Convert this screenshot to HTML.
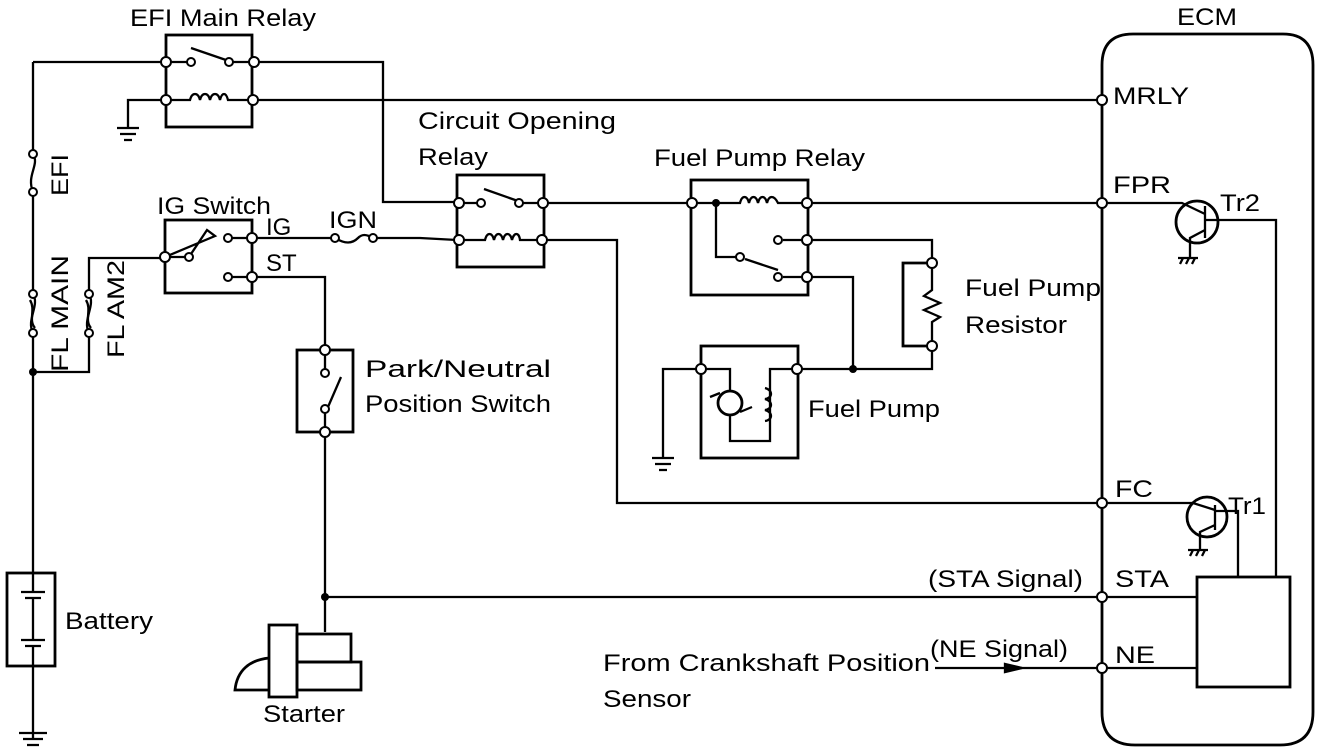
<!DOCTYPE html>
<html><head><meta charset="utf-8"><style>
html,body{margin:0;padding:0;background:#fff;}
svg{display:block;}
text{font-family:"Liberation Sans",Arial,sans-serif;font-size:24px;fill:#000;}
</style></head><body>
<svg width="1328" height="754" viewBox="0 0 1328 754" xmlns="http://www.w3.org/2000/svg">
<g fill="none" stroke="#000" stroke-width="2.3">
<path d="M33 62 H166"/>
<path d="M33 62 V154"/><path d="M33 192 V294"/><path d="M33 333 V573"/>
<path d="M33 154 C40 165,26 175,33 192"/>
<path d="M33 294 C40 305,26 320,33 333"/><path d="M30 300 C36 310,28 320,35 328"/>
<path d="M89 294 C96 305,82 320,89 333"/><path d="M86 300 C92 310,84 320,91 328"/>
<path d="M33 372 H89 V333"/><path d="M89 294 V258 H165"/>
<rect x="7" y="573" width="48" height="93" stroke-width="2.8"/>
<path d="M33 573 V592 M21 592 H45 M25 598 H41 M33 598 V640 M21 640 H45 M25 646 H41 M33 646 V740" />
<path d="M19 733 H47 M23 739 H43 M27 745 H39"/>
<rect x="166" y="35" width="86" height="92" stroke-width="2.8"/>
<path d="M166 62 H187 M233 62 H254"/>
<path d="M191 48 L226 60"/>
<path d="M166 100 H190 C192 92,198 92,200 100 C202 92,208 92,210 100 C212 92,218 92,220 100 C222 92,226 92,228 100 H253"/>
<path d="M166 100 H128 V128 M117 128 H139 M120 134 H136 M124 140 H132"/>
<path d="M254 62 H383 V202 H457" />
<path d="M253 100 H1100"/>
<rect x="457" y="175" width="87" height="92" stroke-width="2.8"/>
<path d="M484 189 L518 201"/>
<path d="M459 240 H485 C487 232,492 232,494 240 C496 232,501 232,503 240 C505 232,510 232,512 240 C514 232,519 232,520 240 H542"/>
<path d="M459 203 H481 M519 203 H540"/>
<path d="M543 203 H692"/>
<path d="M542 240 H617 V503 H1100"/>
<rect x="165" y="220" width="87" height="73" stroke-width="2.8"/>
<path d="M165 257 H189 L207 230 L215 236 Z"/>
<path d="M228 238 H252 M228 277 H252"/>
<path d="M252 238 H335 M373 238 H420 L457 240"/>
<path d="M335 238 C345 244,352 244,358 238 C362 234,366 234,373 238"/>
<path d="M252 277 H325 V350"/>
<rect x="297" y="350" width="56" height="82" stroke-width="2.8"/>
<path d="M325 350 V373 M325 409 V432 M328 407 L341 377"/>
<path d="M325 432 V632"/>
<path d="M325 597 H1100"/>
<rect x="269" y="625" width="28" height="72" stroke-width="2.8"/>
<rect x="297" y="634" width="54" height="28" stroke-width="2.8"/>
<rect x="297" y="662" width="64" height="28" stroke-width="2.8"/>
<path d="M269 690 H235 C237 670,250 660,269 658" stroke-width="2.8"/>
<rect x="691" y="180" width="117" height="115" stroke-width="2.8"/>
<path d="M692 203 H740 C742 195,747 195,749 203 C751 195,756 195,758 203 C760 195,765 195,767 203 C769 195,774 195,778 203 H807"/>
<path d="M716 203 V257 H740 M745 259 L778 270 M783 277 H807 M783 240 H807"/>
<path d="M807 203 H1100"/>
<path d="M807 240 H932 V263"/>
<path d="M807 277 H853 V369"/>
<path d="M932 263 H903 V346 H932" stroke-width="2.8"/>
<path d="M932 263 V290 L924 296 L940 303 L924 310 L940 317 L932 322 V346"/>
<path d="M932 346 V369 H797"/>
<rect x="701" y="346" width="97" height="112" stroke-width="2.8"/>
<path d="M701 369 H663 V458 M652 458 H674 M655 464 H671 M659 470 H667"/>
<path d="M701 369 H730 V391 M730 416 V441 H770 V369 H797"/>
<circle cx="730" cy="403" r="12" stroke-width="2.8"/>
<path d="M710 397 L720 393 M740 412 L752 407"/>
<path d="M765 388 C773 390,773 398,765 399 C773 401,773 409,765 410 C773 412,773 420,765 421"/>
<path d="M1102 65 Q1102 34 1133 34 H1283 Q1313 34 1313 65 V712 Q1313 745 1280 745 H1135 Q1102 745 1102 712 Z" stroke-width="2.8"/>
<circle cx="1197" cy="222" r="21" stroke-width="2.8"/>
<path d="M1100 203 H1182 L1205 214 M1205 206 V238 M1205 220 H1276 V577 M1205 230 L1190 238 V258 M1178 258 H1198"/>
<path d="M1180 264 L1183 258 M1186 264 L1189 258 M1192 264 L1195 258"/>
<circle cx="1207" cy="517" r="20" stroke-width="2.8"/>
<path d="M1100 503 H1193 L1215 510 M1215 505 V530 M1215 511 H1238 V577 M1215 525 L1200 532 V550 M1188 550 H1208"/>
<path d="M1190 556 L1193 550 M1196 556 L1199 550 M1202 556 L1205 550"/>
<rect x="1197" y="577" width="93" height="110" stroke-width="2.8"/>
<path d="M1100 597 H1197 M935 668 H1197"/>
<path d="M1005 664 L1022 668 L1005 672 Z" fill="#000"/>
</g>
<g fill="#fff" stroke="#000" stroke-width="2">
<circle cx="33" cy="154" r="4"/><circle cx="33" cy="192" r="4"/>
<circle cx="33" cy="294" r="4"/><circle cx="33" cy="333" r="4"/>
<circle cx="89" cy="294" r="4"/><circle cx="89" cy="333" r="4"/>
<circle cx="166" cy="62" r="5"/><circle cx="191" cy="62" r="4"/><circle cx="229" cy="62" r="4"/><circle cx="254" cy="62" r="5"/>
<circle cx="166" cy="100" r="5"/><circle cx="253" cy="100" r="5"/>
<circle cx="459" cy="203" r="5"/><circle cx="481" cy="203" r="4"/><circle cx="519" cy="203" r="4"/><circle cx="543" cy="203" r="5"/>
<circle cx="459" cy="240" r="5"/><circle cx="542" cy="240" r="5"/>
<circle cx="165" cy="257" r="5"/><circle cx="189" cy="257" r="4"/><circle cx="228" cy="238" r="4"/><circle cx="252" cy="238" r="5"/>
<circle cx="228" cy="277" r="4"/><circle cx="252" cy="277" r="5"/>
<circle cx="335" cy="238" r="4"/><circle cx="373" cy="238" r="4"/>
<circle cx="325" cy="350" r="5"/><circle cx="325" cy="373" r="4"/><circle cx="325" cy="409" r="4"/><circle cx="325" cy="432" r="5"/>
<circle cx="692" cy="203" r="5"/><circle cx="807" cy="203" r="5"/><circle cx="807" cy="240" r="5"/><circle cx="807" cy="277" r="5"/>
<circle cx="778" cy="240" r="4"/><circle cx="778" cy="277" r="4"/><circle cx="740" cy="257" r="4"/>
<circle cx="932" cy="263" r="5"/><circle cx="932" cy="346" r="5"/>
<circle cx="701" cy="369" r="5"/><circle cx="797" cy="369" r="5"/>
<circle cx="1102" cy="100" r="5"/><circle cx="1102" cy="203" r="5"/><circle cx="1102" cy="503" r="5"/><circle cx="1102" cy="597" r="5"/><circle cx="1102" cy="668" r="5"/>
</g>
<g fill="#000">
<circle cx="33" cy="372" r="4"/><circle cx="325" cy="597" r="4"/><circle cx="716" cy="203" r="4"/><circle cx="853" cy="369" r="4"/>
</g>
<text x="130" y="26" textLength="186" lengthAdjust="spacingAndGlyphs">EFI Main Relay</text>
<text x="1177" y="25" textLength="60" lengthAdjust="spacingAndGlyphs">ECM</text>
<text x="1113" y="104" textLength="76" lengthAdjust="spacingAndGlyphs">MRLY</text>
<text x="418" y="129" textLength="198" lengthAdjust="spacingAndGlyphs">Circuit  Opening</text>
<text x="418" y="165" textLength="70" lengthAdjust="spacingAndGlyphs">Relay</text>
<text x="654" y="166" textLength="211" lengthAdjust="spacingAndGlyphs">Fuel Pump Relay</text>
<text x="1113" y="193" textLength="58" lengthAdjust="spacingAndGlyphs">FPR</text>
<text x="1220" y="211" textLength="40" lengthAdjust="spacingAndGlyphs">Tr2</text>
<text x="157" y="214" textLength="114" lengthAdjust="spacingAndGlyphs">IG Switch</text>
<text x="266" y="235">IG</text>
<text x="266" y="271">ST</text>
<text x="329" y="228" textLength="48" lengthAdjust="spacingAndGlyphs">IGN</text>
<text x="965" y="296" textLength="136" lengthAdjust="spacingAndGlyphs">Fuel Pump</text>
<text x="965" y="333" textLength="102" lengthAdjust="spacingAndGlyphs">Resistor</text>
<text x="808" y="417" textLength="132" lengthAdjust="spacingAndGlyphs">Fuel Pump</text>
<text x="365" y="377" textLength="186" lengthAdjust="spacingAndGlyphs">Park/Neutral</text>
<text x="365" y="412" textLength="186" lengthAdjust="spacingAndGlyphs">Position Switch</text>
<text x="1115" y="497" textLength="38" lengthAdjust="spacingAndGlyphs">FC</text>
<text x="1228" y="514" textLength="38" lengthAdjust="spacingAndGlyphs">Tr1</text>
<text x="928" y="587" textLength="155" lengthAdjust="spacingAndGlyphs">(STA Signal)</text>
<text x="1115" y="587" textLength="54" lengthAdjust="spacingAndGlyphs">STA</text>
<text x="930" y="657" textLength="138" lengthAdjust="spacingAndGlyphs">(NE Signal)</text>
<text x="1115" y="663" textLength="40" lengthAdjust="spacingAndGlyphs">NE</text>
<text x="603" y="671" textLength="327" lengthAdjust="spacingAndGlyphs">From Crankshaft Position</text>
<text x="603" y="707" textLength="88" lengthAdjust="spacingAndGlyphs">Sensor</text>
<text x="65" y="629" textLength="88" lengthAdjust="spacingAndGlyphs">Battery</text>
<text x="263" y="722" textLength="82" lengthAdjust="spacingAndGlyphs">Starter</text>
<text transform="translate(68,196) rotate(-90)" textLength="42" lengthAdjust="spacingAndGlyphs">EFI</text>
<text transform="translate(68,372) rotate(-90)" textLength="117" lengthAdjust="spacingAndGlyphs">FL MAIN</text>
<text transform="translate(124,358) rotate(-90)" textLength="98" lengthAdjust="spacingAndGlyphs">FL AM2</text>
</svg>
</body></html>
